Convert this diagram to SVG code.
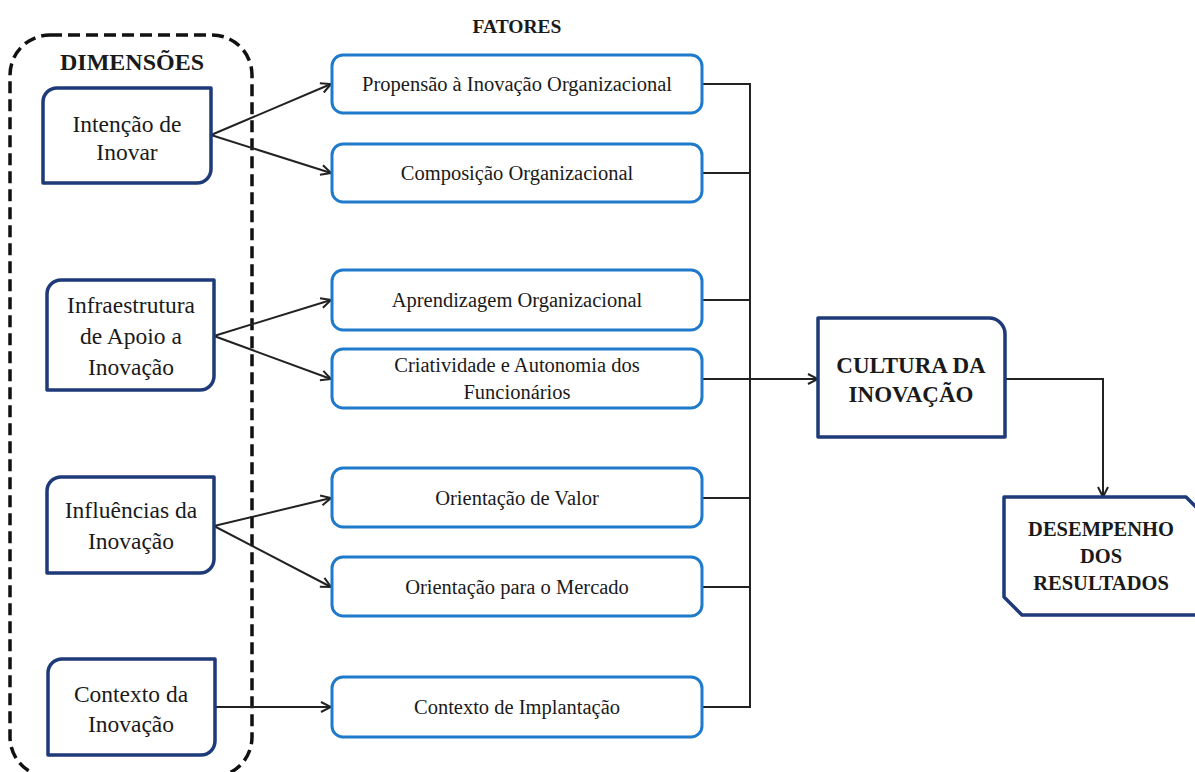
<svg xmlns="http://www.w3.org/2000/svg" width="1195" height="772" viewBox="0 0 1195 772">
  <style>
    .dim { fill: #ffffff; stroke: #1f3a78; stroke-width: 3.5; stroke-linejoin: round; }
    .fac { fill: #ffffff; stroke: #1f7acb; stroke-width: 3; }
    .wire { fill: none; stroke: #222222; stroke-width: 2; }
    .txt { font-family: "Liberation Serif", "Times New Roman", serif; fill: #1a1a1a; text-anchor: middle; }
    .dimtxt { font-size: 23.5px; }
    .factxt { font-size: 20.5px; }
    .bold { font-weight: bold; }
  </style>
  <defs>
    <marker id="arrow" viewBox="0 0 12 12" refX="11" refY="6" markerWidth="12" markerHeight="12" markerUnits="userSpaceOnUse" orient="auto">
      <path d="M1,1 L11,6 L1,11" fill="none" stroke="#222222" stroke-width="2"/>
    </marker>
  </defs>

  <rect width="1195" height="772" fill="#ffffff"/>

  <!-- dashed frame grouping the dimensions -->
  <rect x="10" y="35" width="242" height="742" rx="40" ry="40" fill="none" stroke="#111111" stroke-width="3.5" stroke-dasharray="12 6"/>
  <text class="txt bold" x="132" y="70" font-size="24">DIMENSÕES</text>
  <text class="txt bold" x="517" y="33" font-size="19.5">FATORES</text>

  <!-- connectors -->
  <g id="connectors">
    <path class="wire" d="M211,135 L331,84" marker-end="url(#arrow)"/>
    <path class="wire" d="M211,135 L331,173" marker-end="url(#arrow)"/>
    <path class="wire" d="M214,336 L331,300" marker-end="url(#arrow)"/>
    <path class="wire" d="M214,336 L331,379" marker-end="url(#arrow)"/>
    <path class="wire" d="M214,526 L331,498" marker-end="url(#arrow)"/>
    <path class="wire" d="M214,526 L331,587" marker-end="url(#arrow)"/>
    <path class="wire" d="M215,707 L331,707" marker-end="url(#arrow)"/>
    <!-- collector bus on the right of the factors -->
    <path class="wire" d="M702,84 H750 V707 H702"/>
    <path class="wire" d="M702,173 H750"/>
    <path class="wire" d="M702,300 H750"/>
    <path class="wire" d="M702,498 H750"/>
    <path class="wire" d="M702,587 H750"/>
    <path class="wire" d="M702,379 H818" marker-end="url(#arrow)"/>
    <path class="wire" d="M1005,379 H1103 V497" marker-end="url(#arrow)"/>
  </g>

  <!-- dimensions -->
  <g id="dim-intencao">
    <path class="dim" d="M57,88 H211 V169 A14,14 0 0 1 197,183 H43 V102 A14,14 0 0 1 57,88 Z"/>
    <text class="txt dimtxt" x="127" y="132">Intenção de</text>
    <text class="txt dimtxt" x="127" y="160">Inovar</text>
  </g>
  <g id="dim-infraestrutura">
    <path class="dim" d="M61,280 H214 V376 A14,14 0 0 1 200,390 H47 V294 A14,14 0 0 1 61,280 Z"/>
    <text class="txt dimtxt" x="131" y="313">Infraestrutura</text>
    <text class="txt dimtxt" x="131" y="344">de Apoio a</text>
    <text class="txt dimtxt" x="131" y="375">Inovação</text>
  </g>
  <g id="dim-influencias">
    <path class="dim" d="M61,477 H214 V559 A14,14 0 0 1 200,573 H47 V491 A14,14 0 0 1 61,477 Z"/>
    <text class="txt dimtxt" x="131" y="518">Influências da</text>
    <text class="txt dimtxt" x="131" y="549">Inovação</text>
  </g>
  <g id="dim-contexto">
    <path class="dim" d="M62,659 H215 V741 A14,14 0 0 1 201,755 H48 V673 A14,14 0 0 1 62,659 Z"/>
    <text class="txt dimtxt" x="131" y="702">Contexto da</text>
    <text class="txt dimtxt" x="131" y="732">Inovação</text>
  </g>

  <!-- factors -->
  <g id="fac-propensao">
    <rect class="fac" x="332" y="55" width="370" height="58" rx="11"/>
    <text class="txt factxt" x="517" y="91">Propensão à Inovação Organizacional</text>
  </g>
  <g id="fac-composicao">
    <rect class="fac" x="332" y="144" width="370" height="58" rx="11"/>
    <text class="txt factxt" x="517" y="180">Composição Organizacional</text>
  </g>
  <g id="fac-aprendizagem">
    <rect class="fac" x="332" y="270" width="370" height="60" rx="11"/>
    <text class="txt factxt" x="517" y="307">Aprendizagem Organizacional</text>
  </g>
  <g id="fac-criatividade">
    <rect class="fac" x="332" y="349" width="370" height="59" rx="11"/>
    <text class="txt factxt" x="517" y="372">Criatividade e Autonomia dos</text>
    <text class="txt factxt" x="517" y="399">Funcionários</text>
  </g>
  <g id="fac-valor">
    <rect class="fac" x="332" y="468" width="370" height="59" rx="11"/>
    <text class="txt factxt" x="517" y="505">Orientação de Valor</text>
  </g>
  <g id="fac-mercado">
    <rect class="fac" x="332" y="557" width="370" height="59" rx="11"/>
    <text class="txt factxt" x="517" y="594">Orientação para o Mercado</text>
  </g>
  <g id="fac-implantacao">
    <rect class="fac" x="332" y="677" width="370" height="60" rx="11"/>
    <text class="txt factxt" x="517" y="714">Contexto de Implantação</text>
  </g>

  <!-- outcome nodes -->
  <g id="cultura">
    <path class="dim" d="M818,318 H989 A16,16 0 0 1 1005,334 V437 H818 Z"/>
    <text class="txt bold" x="911" y="373" font-size="23">CULTURA DA</text>
    <text class="txt bold" x="911" y="402" font-size="23">INOVAÇÃO</text>
  </g>
  <g id="desempenho">
    <path class="dim" d="M1004,497 H1186 L1210,521 V615 H1022 L1004,597 Z"/>
    <text class="txt bold" x="1101" y="536" font-size="20.5">DESEMPENHO</text>
    <text class="txt bold" x="1101" y="563" font-size="20.5">DOS</text>
    <text class="txt bold" x="1101" y="590" font-size="20.5">RESULTADOS</text>
  </g>
</svg>
